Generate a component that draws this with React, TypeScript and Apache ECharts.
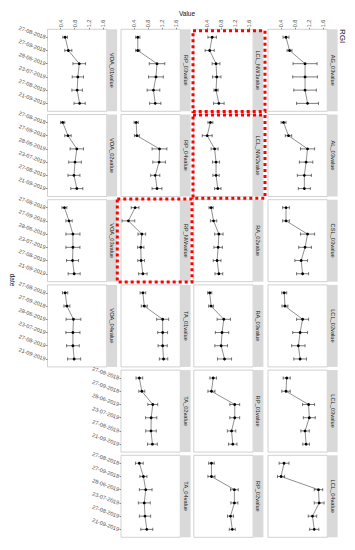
import React, { useEffect, useRef } from "react";
import * as echarts from "echarts";

const dates = ["27-08-2018", "27-09-2018", "28-06-2019", "23-07-2019", "27-08-2019", "21-09-2019"];
const valueTicks = [0.4, 0.8, 1.2, 1.6];
const dateSlots = [1, 2, 3, 4, 5, 6];

const VOA_01 = [0.53, 0.62, 0.93, 0.89, 0.87, 0.94];
const VOA_01_se = [0.066, 0.1, 0.18, 0.16, 0.15, 0.16];
const VOA_02 = [0.46, 0.61, 0.86, 0.81, 0.78, 0.86];
const VOA_02_se = [0.06, 0.09, 0.19, 0.18, 0.17, 0.17];
const VOA_03 = [0.51, 0.64, 0.75, 0.75, 0.74, 0.785];
const VOA_03_se = [0.07, 0.09, 0.2, 0.2, 0.17, 0.17];
const VOA_04 = [0.53, 0.58, 0.765, 0.75, 0.75, 0.785];
const VOA_04_se = [0.075, 0.085, 0.21, 0.2, 0.18, 0.185];
const RP_03 = [0.505, 0.505, 1.05, 1.02, 0.95, 1.0];
const RP_03_se = [0.06, 0.06, 0.22, 0.21, 0.18, 0.16];
const RP_04 = [0.46, 0.48, 1.12, 1.11, 1.0, 1.05];
const RP_04_se = [0.06, 0.07, 0.21, 0.18, 0.13, 0.14];
const RP_NW = [0.43, 0.24, 0.62, 0.59, 0.6, 0.65];
const RP_NW_se = [0.11, 0.18, 0.11, 0.09, 0.095, 0.12];
const TA_01 = [0.65, 0.69, 1.21, 1.21, 1.21, 1.235];
const TA_01_se = [0.08, 0.085, 0.17, 0.14, 0.13, 0.12];
const TA_02 = [0.55, 0.62, 0.93, 0.885, 0.88, 0.92];
const TA_02_se = [0.095, 0.085, 0.14, 0.16, 0.15, 0.14];
const TA_04 = [0.55, 0.665, 0.73, 0.69, 0.71, 0.76];
const TA_04_se = [0.11, 0.1, 0.18, 0.17, 0.16, 0.17];
const LCL_NW1 = [0.55, 0.48, 0.66, 0.68, 0.66, 0.74];
const LCL_NW1_se = [0.12, 0.13, 0.11, 0.12, 0.06, 0.15];
const LCL_NW2 = [0.5, 0.41, 0.62, 0.66, 0.66, 0.71];
const LCL_NW2_se = [0.07, 0.14, 0.1, 0.1, 0.09, 0.09];
const RA_02 = [0.52, 0.59, 0.74, 0.72, 0.69, 0.74];
const RA_02_se = [0.06, 0.09, 0.12, 0.12, 0.11, 0.11];
const RA_03 = [0.48, 0.52, 0.88, 0.83, 0.805, 0.9];
const RA_03_se = [0.06, 0.07, 0.19, 0.19, 0.18, 0.2];
const RP_01 = [0.58, 0.53, 1.19, 1.19, 1.1, 1.135];
const RP_01_se = [0.095, 0.1, 0.14, 0.14, 0.12, 0.12];
const RP_02 = [0.53, 0.53, 1.18, 1.18, 1.07, 1.12];
const RP_02_se = [0.08, 0.1, 0.11, 0.1, 0.085, 0.085];
const AG_03 = [0.54, 0.64, 1.08, 1.08, 1.08, 1.15];
const AG_03_se = [0.085, 0.07, 0.34, 0.35, 0.32, 0.31];
const AL_03 = [0.47, 0.61, 1.15, 1.11, 1.06, 1.06];
const AL_03_se = [0.07, 0.09, 0.2, 0.19, 0.2, 0.17];
const CSL_03 = [0.54, 0.54, 1.15, 1.08, 0.97, 1.01];
const CSL_03_se = [0.095, 0.095, 0.2, 0.18, 0.18, 0.17];
const LCL_02 = [0.49, 0.51, 1.01, 0.94, 0.89, 0.94];
const LCL_02_se = [0.07, 0.085, 0.17, 0.21, 0.19, 0.18];
const LCL_03 = [0.56, 0.54, 1.18, 1.2, 1.08, 1.11];
const LCL_03_se = [0.1, 0.12, 0.17, 0.17, 0.12, 0.095];
const LCL_04 = [0.485, 0.4, 1.46, 1.48, 1.29, 1.34];
const LCL_04_se = [0.14, 0.1, 0.12, 0.14, 0.12, 0.13];

const panels = [
  { name: "VOA_01value", mean: VOA_01, se: VOA_01_se, row: 0, col: 0 },
  { name: "RP_03value", mean: RP_03, se: RP_03_se, row: 0, col: 1 },
  { name: "LCL_NW1value", mean: LCL_NW1, se: LCL_NW1_se, row: 0, col: 2 },
  { name: "AG_03value", mean: AG_03, se: AG_03_se, row: 0, col: 3 },
  { name: "VOA_02value", mean: VOA_02, se: VOA_02_se, row: 1, col: 0 },
  { name: "RP_04value", mean: RP_04, se: RP_04_se, row: 1, col: 1 },
  { name: "LCL_NW2value", mean: LCL_NW2, se: LCL_NW2_se, row: 1, col: 2 },
  { name: "AL_03value", mean: AL_03, se: AL_03_se, row: 1, col: 3 },
  { name: "VOA_03value", mean: VOA_03, se: VOA_03_se, row: 2, col: 0 },
  { name: "RP_NWvalue", mean: RP_NW, se: RP_NW_se, row: 2, col: 1 },
  { name: "RA_02value", mean: RA_02, se: RA_02_se, row: 2, col: 2 },
  { name: "CSL_03value", mean: CSL_03, se: CSL_03_se, row: 2, col: 3 },
  { name: "VOA_04value", mean: VOA_04, se: VOA_04_se, row: 3, col: 0 },
  { name: "TA_01value", mean: TA_01, se: TA_01_se, row: 3, col: 1 },
  { name: "RA_03value", mean: RA_03, se: RA_03_se, row: 3, col: 2 },
  { name: "LCL_02value", mean: LCL_02, se: LCL_02_se, row: 3, col: 3 },
  { name: "TA_02value", mean: TA_02, se: TA_02_se, row: 4, col: 1 },
  { name: "RP_01value", mean: RP_01, se: RP_01_se, row: 4, col: 2 },
  { name: "LCL_03value", mean: LCL_03, se: LCL_03_se, row: 4, col: 3 },
  { name: "TA_04value", mean: TA_04, se: TA_04_se, row: 5, col: 1 },
  { name: "RP_02value", mean: RP_02, se: RP_02_se, row: 5, col: 2 },
  { name: "LCL_04value", mean: LCL_04, se: LCL_04_se, row: 5, col: 3 },
];

const FONT = "'Liberation Sans', Arial, sans-serif";
const colLeft = [47.5, 121, 193.8, 268];
const rowTop = [29.3, 114.5, 199.7, 284.9, 370.1, 455.3];
const PW = 59.3;
const PH = 82;
const SW = 10;
const X_MIN = 0.03;
const X_MAX = 1.71;

function buildOption() {
  const grids: any[] = [];
  const xAxes: any[] = [];
  const yAxes: any[] = [];
  const series: any[] = [];
  const graphics: any[] = [];

  panels.forEach((p, k) => {
    const left = colLeft[p.col];
    const top = rowTop[p.row];
    grids.push({
      left, top, width: PW, height: PH, show: true,
      borderColor: "#bdbdbd", borderWidth: 0.7, backgroundColor: "#fff",
    });
    const showX = p.row === 0;
    const showY = p.col === 0 || (p.col === 1 && p.row >= 4);
    xAxes.push({
      gridIndex: k, type: "value", min: X_MIN, max: X_MAX, position: "top",
      axisLine: { show: false }, splitLine: { show: false },
      axisTick: { show: showX, customValues: valueTicks, length: 1.5, lineStyle: { color: "#444", width: 0.6 } },
      axisLabel: {
        show: showX, customValues: valueTicks, rotate: -90, fontSize: 5.5, color: "#4d4d4d",
        margin: 2, fontFamily: FONT, formatter: (v: number) => v.toFixed(1),
      },
    });
    yAxes.push({
      gridIndex: k, type: "value", min: 0.4, max: 6.6, inverse: true,
      axisLine: { show: false }, splitLine: { show: false },
      axisTick: { show: showY, customValues: dateSlots, length: 1.5, lineStyle: { color: "#444", width: 0.6 } },
      axisLabel: {
        show: showY, customValues: dateSlots, rotate: -20, fontSize: 5.5, color: "#4d4d4d",
        margin: 2, fontFamily: FONT, formatter: (v: number) => dates[Math.round(v) - 1],
      },
    });
    series.push({
      type: "custom", xAxisIndex: k, yAxisIndex: k, coordinateSystem: "cartesian2d",
      encode: { x: [0, 1], y: 2 }, clip: false, z: 2,
      data: p.mean.map((m, i) => [m - p.se[i], m + p.se[i], i + 1]),
      renderItem: (params: any, api: any) => {
        const y = api.value(2);
        const lo = api.coord([api.value(0), y]);
        const hi = api.coord([api.value(1), y]);
        const c = 1.6;
        const st = { stroke: "#222", lineWidth: 0.6 };
        return {
          type: "group",
          children: [
            { type: "line", shape: { x1: lo[0], y1: lo[1], x2: hi[0], y2: hi[1] }, style: st },
            { type: "line", shape: { x1: lo[0], y1: lo[1] - c, x2: lo[0], y2: lo[1] + c }, style: st },
            { type: "line", shape: { x1: hi[0], y1: hi[1] - c, x2: hi[0], y2: hi[1] + c }, style: st },
          ],
        };
      },
    });
    series.push({
      type: "line", xAxisIndex: k, yAxisIndex: k, z: 3,
      data: p.mean.map((m, i) => [m, i + 1]),
      symbol: "circle", symbolSize: 2.8, showSymbol: true,
      itemStyle: { color: "#000" },
      lineStyle: { color: "#444", width: 0.6 },
    });
    graphics.push({
      type: "rect", shape: { x: left + PW + 0.3, y: top, width: SW, height: PH },
      style: { fill: "#d9d9d9" }, z: 1,
    });
    graphics.push({
      type: "text", x: left + PW + 0.3 + SW / 2, y: top + PH / 2, rotation: -Math.PI / 2,
      style: { text: p.name, fontSize: 5.7, fill: "#1a1a1a", align: "center", verticalAlign: "middle", fontFamily: FONT },
      z: 2,
    });
  });

  const red = { fill: "none", stroke: "#ff0000", lineWidth: 3, lineDash: [3, 3] };
  graphics.push({ type: "rect", shape: { x: 193, y: 30.8, width: 72, height: 80.7 }, style: red, z: 10 });
  graphics.push({ type: "rect", shape: { x: 193, y: 115, width: 72, height: 83.3 }, style: red, z: 10 });
  graphics.push({ type: "rect", shape: { x: 117.3, y: 199, width: 74.7, height: 83 }, style: red, z: 10 });

  graphics.push({
    type: "text", x: 187, y: 13.5,
    style: { text: "Value", fontSize: 6.5, fill: "#111", align: "center", verticalAlign: "middle", fontFamily: FONT },
  });
  graphics.push({
    type: "text", x: 342, y: 36, rotation: -Math.PI / 2,
    style: { text: "RGI", fontSize: 8, fill: "#111", align: "center", verticalAlign: "middle", fontFamily: FONT },
  });
  graphics.push({
    type: "text", x: 12, y: 280, rotation: -Math.PI / 2,
    style: { text: "date", fontSize: 6.5, fill: "#111", align: "center", verticalAlign: "middle", fontFamily: FONT },
  });

  return {
    animation: false,
    backgroundColor: "#fff",
    grid: grids,
    xAxis: xAxes,
    yAxis: yAxes,
    series,
    graphic: { elements: graphics },
  };
}

export default function App() {
  const ref = useRef<HTMLDivElement>(null);
  useEffect(() => {
    const chart = echarts.init(ref.current!, null, { renderer: "svg" });
    chart.setOption(buildOption() as any);
    return () => chart.dispose();
  }, []);
  return (
    <div
      ref={ref}
      style={{ position: "fixed", left: 0, top: 0, width: 355, height: 550, background: "#fff" }}
    />
  );
}
